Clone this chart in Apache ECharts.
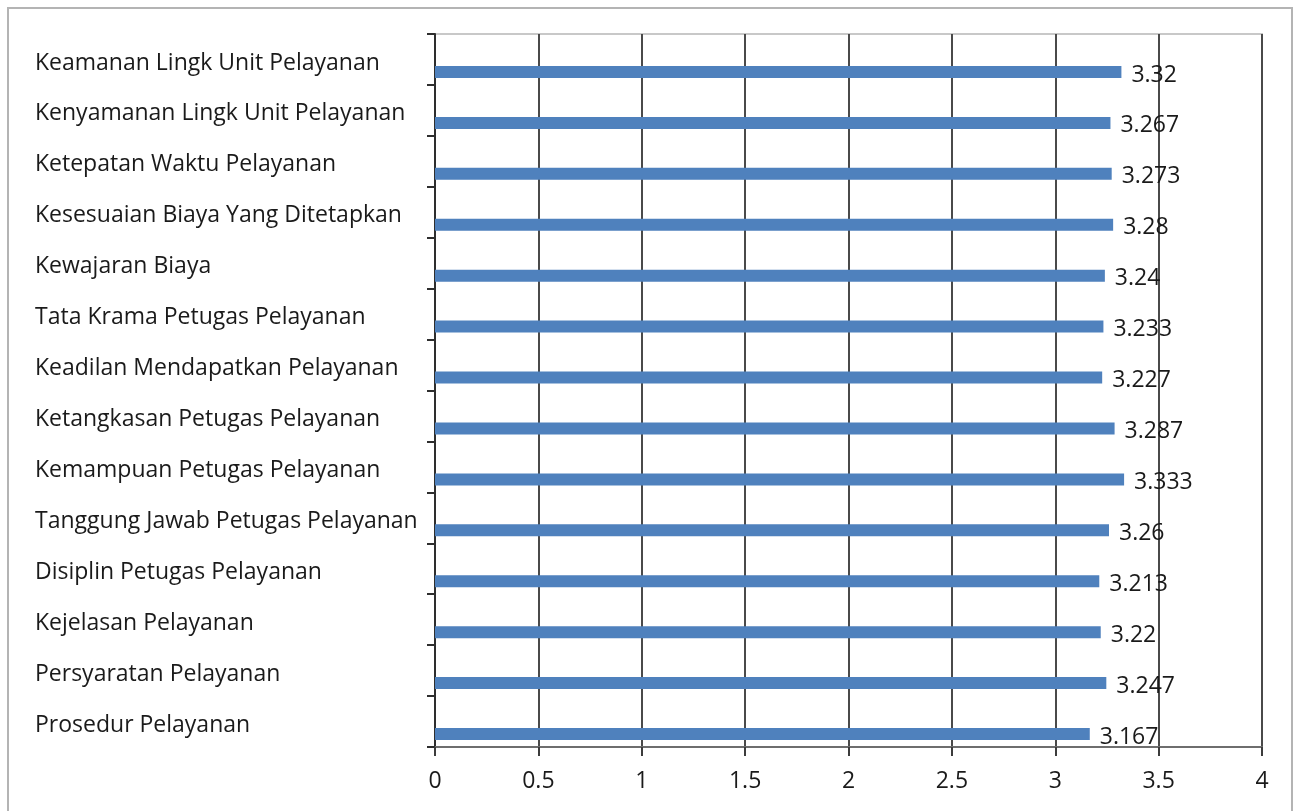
<!DOCTYPE html>
<html>
<head>
<meta charset="utf-8">
<script src="https://cdn.jsdelivr.net/npm/echarts@6/dist/echarts.min.js"></script>
<style>
  html, body { margin: 0; padding: 0; background: #fff; }
  #chart { width: 1295px; height: 811px; }
</style>
</head>
<body>
<div id="chart"></div>
<script>
// Service quality indicators, listed top to bottom
const categories = [
  'Keamanan Lingk Unit Pelayanan',
  'Kenyamanan Lingk Unit Pelayanan',
  'Ketepatan Waktu Pelayanan',
  'Kesesuaian Biaya Yang Ditetapkan',
  'Kewajaran Biaya',
  'Tata Krama Petugas Pelayanan',
  'Keadilan Mendapatkan Pelayanan',
  'Ketangkasan Petugas Pelayanan',
  'Kemampuan Petugas Pelayanan',
  'Tanggung Jawab Petugas Pelayanan',
  'Disiplin Petugas Pelayanan',
  'Kejelasan Pelayanan',
  'Persyaratan Pelayanan',
  'Prosedur Pelayanan'
];
const scores = [3.32, 3.267, 3.273, 3.28, 3.24, 3.233, 3.227, 3.287, 3.333, 3.26, 3.213, 3.22, 3.247, 3.167];
const xMin = 0, xMax = 4, xStep = 0.5;

const FONT = '"Open Sans", sans-serif';
const FONT_SIZE = 23;
const TEXT = '#1a1a1a';

const chart = echarts.init(document.getElementById('chart'), null, { renderer: 'canvas' });

const valueAxisBase = { type: 'value', min: xMin, max: xMax, interval: xStep };

chart.setOption({
  animation: false,
  backgroundColor: '#fff',
  graphic: [{
    type: 'rect',
    shape: { x: 8, y: 8, width: 1284, height: 820 },
    style: { fill: 'none', stroke: '#b4b4b4', lineWidth: 2 },
    silent: true,
    z: -10
  }],
  grid: [
    // frame with axes, gridlines and category labels
    { left: 435, right: 33, top: 34, bottom: 64, show: true, borderColor: '#c8c8c8', borderWidth: 2, backgroundColor: 'transparent' },
    // bars sit in the lower part of each band
    { left: 435, right: 33, top: 46.5, bottom: 51.5 }
  ],
  xAxis: [
    Object.assign({}, valueAxisBase, {
      gridIndex: 0,
      axisLine: { show: true, lineStyle: { color: '#6e6e6e', width: 2 } },
      axisTick: { show: true, length: 9, lineStyle: { color: '#3c3c3c', width: 2 } },
      splitLine: { show: true, lineStyle: { color: '#4a4a4a', width: 2 } },
      axisLabel: { fontFamily: FONT, fontSize: FONT_SIZE, color: TEXT, margin: 23 }
    }),
    Object.assign({}, valueAxisBase, {
      gridIndex: 1, show: false
    })
  ],
  yAxis: [
    {
      type: 'category', gridIndex: 0, data: categories, inverse: true,
      axisLine: { show: true, lineStyle: { color: '#2e2e2e', width: 2 } },
      axisTick: { show: true, length: 8, lineStyle: { color: '#2e2e2e', width: 2 } },
      axisLabel: {
        fontFamily: FONT, fontSize: FONT_SIZE, color: TEXT,
        align: 'left', margin: 400, verticalAlign: 'top',
        padding: [-8, 0, 0, 0]
      }
    },
    {
      type: 'category', gridIndex: 1, data: categories, inverse: true, show: false
    }
  ],
  series: [{
    type: 'bar',
    xAxisIndex: 1,
    yAxisIndex: 1,
    data: scores,
    barWidth: 12,
    itemStyle: { color: '#4f81bd' },
    label: {
      show: true, position: 'right', distance: 10, offset: [0, 3],
      fontFamily: FONT, fontSize: FONT_SIZE, color: TEXT,
      formatter: p => String(p.value)
    },
    z: 5
  }]
});
</script>
</body>
</html>
